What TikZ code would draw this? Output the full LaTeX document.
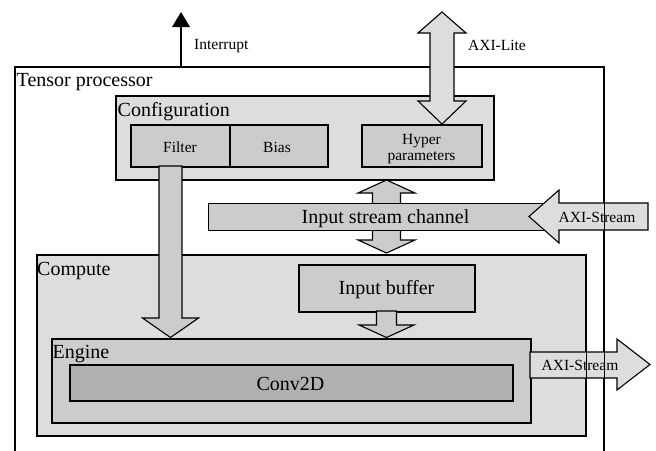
\documentclass[tikz,border=0pt]{standalone}
\usepackage{fontspec}
\setmainfont{Liberation Serif}
\definecolor{paleg}{HTML}{DDDDDD}
\definecolor{midg}{HTML}{CCCCCC}
\definecolor{darkg}{HTML}{B0B0B0}

\begin{document}
\begin{tikzpicture}[x=1pt,y=-1pt,
  box/.style={draw, line width=1.6pt, inner sep=0pt, anchor=north west},
  fat/.style={draw, line width=1.1pt, line join=miter},
  big/.style={font=\fontsize{20}{24}\selectfont, inner sep=0pt},
  small/.style={font=\fontsize{15.5}{16}\selectfont, inner sep=0pt}]
\useasboundingbox (0,0) rectangle (656,450);

% outer block
\node[box, fill=white, minimum width=589pt, minimum height=400pt] (tp) at (14,66) {};

% configuration block
\node[box, fill=paleg, minimum width=378pt, minimum height=84pt] (config) at (115,95) {};
\node[box, fill=midg, minimum width=99pt, minimum height=42pt] (filter) at (130,124) {};
\node[box, fill=midg, minimum width=98pt, minimum height=42pt] (bias) at (229,124) {};
\node[box, fill=midg, minimum width=120pt, minimum height=42pt] (hyper) at (361,124) {};

% AXI-Lite port
\filldraw[fat, fill=paleg] (442,12) -- (466,33) -- (454,33) -- (454,101) -- (466,101)
  -- (442,124) -- (418,101) -- (430,101) -- (430,33) -- (418,33) -- cycle;

% compute block
\node[box, fill=paleg, minimum width=549pt, minimum height=181pt] (compute) at (36,254) {};
\node[box, fill=midg, minimum width=176pt, minimum height=47pt] (ibuf) at (298,264) {};
\node[box, fill=midg, minimum width=479pt, minimum height=84pt] (engine) at (51,338) {};
\node[box, fill=darkg, minimum width=443pt, minimum height=36pt] (conv) at (69,364) {};

% filter weights into the engine
\filldraw[fat, fill=midg] (159,166) -- (159,318) -- (142.5,318) -- (170.5,337.5)
  -- (198.5,318) -- (182,318) -- (182,166) -- cycle;

% configuration <-> compute through the input stream channel
\filldraw[fat, fill=midg] (386.5,180) -- (415,193) -- (400.5,193) -- (400.5,240) -- (415,240)
  -- (386.5,253) -- (358,240) -- (372.5,240) -- (372.5,193) -- (358,193) -- cycle;
\node[box, fill=midg, line width=1.1pt, minimum width=340pt, minimum height=27pt] (isc) at (208,203) {};

% incoming AXI-Stream
\filldraw[fat, fill=paleg] (529,216.5) -- (559,190) -- (559,203) -- (648,203) -- (648,230)
  -- (559,230) -- (559,243) -- cycle;

% input buffer into the engine
\filldraw[fat, fill=midg] (376.5,311) -- (376.5,325) -- (359,325) -- (386.5,337.5) -- (414,325)
  -- (396.5,325) -- (396.5,311) -- cycle;

% outgoing AXI-Stream
\filldraw[fat, fill=paleg] (530,352) -- (617,352) -- (617,339) -- (650,364.5) -- (617,390)
  -- (617,378) -- (530,378) -- cycle;
\draw[line width=1.6pt] (compute.north east) -- (compute.south east);
\draw[line width=1.6pt] (tp.north east) -- (tp.south east);

% interrupt line
\coordinate (irq) at (181,12);
\draw[line width=2.5pt] (tp.north -| irq) -- (181,25);
\fill (172,27) -- (irq) -- (190,27) -- cycle;

% labels
\node[big, anchor=base west] at (16.5,86) {Tensor processor};
\node[big, anchor=base west] at (117.5,116) {Configuration};
\node[big, anchor=base west] at (37,275) {Compute};
\node[big, anchor=base west] at (52.5,358) {Engine};
\node[big, anchor=base] at (385.5,223) {Input stream channel};
\node[big, anchor=base] at (386.5,294) {Input buffer};
\node[big, anchor=base] at (290.5,390) {Conv2D};

\node[small, anchor=base] at (180,152) {Filter};
\node[small, anchor=base] at (277,152) {Bias};
\node[small, anchor=base] at (421.5,144) {Hyper};
\node[small, anchor=base] at (421.5,160) {parameters};
\node[small, anchor=base west] at (194,49) {Interrupt};
\node[small, anchor=base west] at (468,50) {AXI-Lite};
\node[small, anchor=base] at (597,222) {AXI-Stream};
\node[small, anchor=base] at (580,370) {AXI-Stream};
\end{tikzpicture}
\end{document}
